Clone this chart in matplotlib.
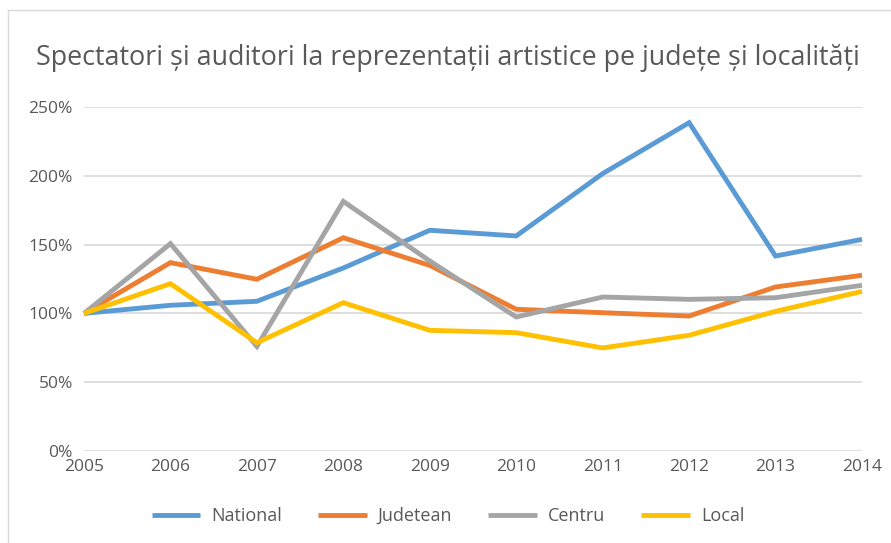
import matplotlib
matplotlib.use("Agg")
import matplotlib.pyplot as plt
from matplotlib.ticker import FuncFormatter
from matplotlib.lines import Line2D

years = [2005, 2006, 2007, 2008, 2009, 2010, 2011, 2012, 2013, 2014]
national = [100, 105.9, 108.8, 133, 160.4, 156.3, 201.6, 238.6, 141.7, 153.8]
judetean = [100, 136.9, 124.8, 155, 134.9, 103, 100.5, 98.1, 119.2, 127.7]
centru = [100, 150.7, 76, 181.4, 138.1, 97.4, 111.9, 110.2, 111.4, 120.4]
local = [100, 121.6, 78.7, 107.8, 87.7, 86, 74.9, 84.1, 101.5, 116]
series_names = ["National", "Judetean", "Centru", "Local"]
colors = ["#5B9BD5", "#ED7D31", "#A5A5A5", "#FFC000"]
yticks = [0, 50, 100, 150, 200, 250]

plt.rcParams['font.family'] = ['Open Sans', 'DejaVu Sans']
txt = "#595959"

fig = plt.figure(figsize=(8.91, 5.43), dpi=100)
ax = fig.add_axes([84/891, 1-451/543, (862-84)/891, (451-107)/543])

for vals, name, c in zip([national, judetean, centru, local], series_names, colors):
    ax.plot(years, vals, color=c, lw=3.5, label=name, clip_on=False,
            solid_joinstyle='miter', solid_capstyle='butt')

ax.set_xlim(years[0], years[-1])
ax.set_ylim(0, 250)
ax.set_yticks(yticks)
ax.yaxis.set_major_formatter(FuncFormatter(lambda v, p: f"{int(v)}%"))
ax.set_xticks(years)
ax.grid(axis='y', color='#D9D9D9', lw=1.2)
ax.set_axisbelow(True)
for s in ax.spines.values():
    s.set_visible(False)
ax.tick_params(axis='both', length=0, labelsize=12.5, colors=txt)
ax.tick_params(axis='y', pad=8)
ax.tick_params(axis='x', pad=6)

fig.text(448/891, 1-58/543, "Spectatori și auditori la reprezentații artistice pe județe și localități",
         ha='center', va='center', fontsize=19.4, color=txt)

leg = fig.legend(loc='center', bbox_to_anchor=(448/891, 1-516/543), ncol=4, frameon=False,
                 fontsize=13, handlelength=2.7, columnspacing=2.0, handletextpad=0.6)
for t in leg.get_texts():
    t.set_color(txt)

fig.add_artist(Line2D([8/891, 8/891], [0, 1-10/543], color='#D9D9D9', lw=1, transform=fig.transFigure))
fig.add_artist(Line2D([8/891, 1], [1-10/543, 1-10/543], color='#D9D9D9', lw=1, transform=fig.transFigure))

fig.savefig("out.png", dpi=100)
